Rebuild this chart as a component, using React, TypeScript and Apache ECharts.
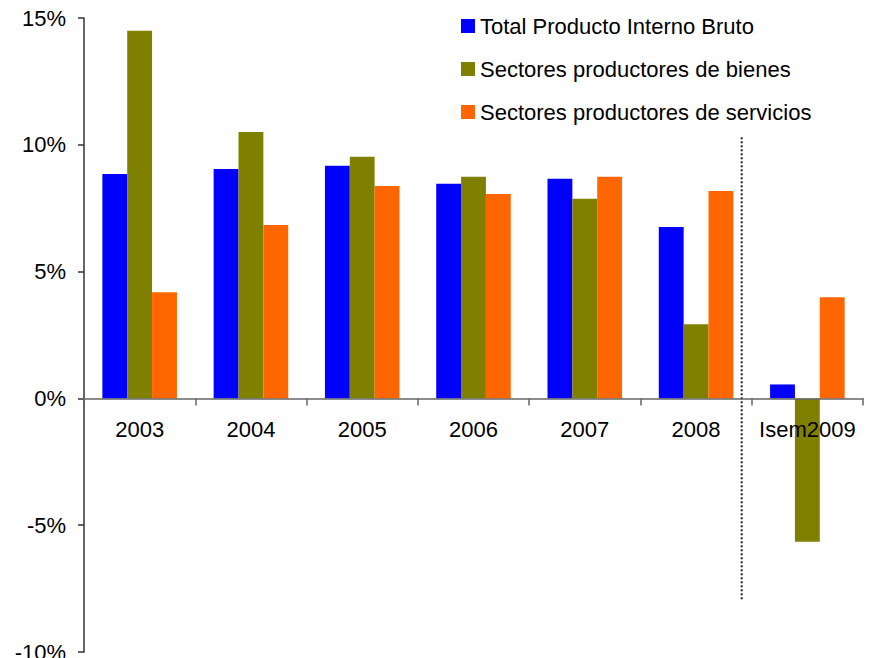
import React, { useEffect, useRef } from "react";
import * as echarts from "echarts";

const categories = ["2003", "2004", "2005", "2006", "2007", "2008", "Isem2009"];
const seriesNames = [
  "Total Producto Interno Bruto",
  "Sectores productores de bienes",
  "Sectores productores de servicios",
];
const pibTotal = [8.85, 9.05, 9.17, 8.46, 8.66, 6.76, 0.55];
const bienes = [14.5, 10.5, 9.53, 8.74, 7.87, 2.92, -5.65];
const servicios = [4.19, 6.84, 8.38, 8.06, 8.74, 8.18, 3.99];
const colors = ["#0000FF", "#808000", "#FF6600"];
const yTicks = { min: -10, max: 15, interval: 5 };
// separator between 2008 and the partial 2009 figure (category offset / % units)
const separatorCat = 5;
const separatorOffset = 0.41;
const separatorY = [10.3, -7.93];

const FONT = "'Liberation Sans', Arial, sans-serif";

export default function App() {
  const ref = useRef<HTMLDivElement>(null);
  useEffect(() => {
    if (!ref.current) return;
    const chart = echarts.init(ref.current, undefined, { renderer: "svg" });
    const values = [pibTotal, bienes, servicios];
    chart.setOption({
      animation: false,
      textStyle: { fontFamily: FONT },
      grid: { left: 84, right: 8, top: 18, bottom: 6, containLabel: false, outerBoundsMode: "none" },
      legend: {
        data: seriesNames,
        orient: "vertical",
        left: 456,
        top: 10,
        itemWidth: 14,
        itemHeight: 14,
        itemGap: 21,
        icon: "rect",
        textStyle: { fontSize: 22, color: "#000", fontFamily: FONT, lineHeight: 22 },
      },
      xAxis: {
        type: "category",
        data: categories,
        offset: 0,
        z: 10,
        axisLine: { onZero: false, lineStyle: { color: "#666", width: 1.5 } },
        axisTick: { show: true, interval: 0, length: 7, lineStyle: { color: "#666", width: 1.5 } },
        axisLabel: { fontSize: 22, color: "#000", margin: 20, fontFamily: FONT, interval: 0 },
        splitLine: { show: false },
      },
      yAxis: {
        type: "value",
        min: yTicks.min,
        max: yTicks.max,
        interval: yTicks.interval,
        axisLine: { show: true, lineStyle: { color: "#333", width: 1.5 } },
        axisTick: { show: true, length: 6, lineStyle: { color: "#333", width: 1.5 } },
        axisLabel: {
          fontSize: 22,
          color: "#000",
          margin: 18,
          fontFamily: FONT,
          formatter: (v: number) => `${v}%`,
        },
        splitLine: { show: false },
      },
      series: seriesNames.map((name, i) => ({
        name,
        type: "bar",
        data: values[i],
        itemStyle: { color: colors[i] },
        barGap: "0%",
        barCategoryGap: "33%",
      })),
    });
    const yZero = chart.convertToPixel({ yAxisIndex: 0 }, 0) as number;
    const yMin = chart.convertToPixel({ yAxisIndex: 0 }, yTicks.min) as number;
    const p0 = chart.convertToPixel({ xAxisIndex: 0 }, separatorCat) as number;
    const p1 = chart.convertToPixel({ xAxisIndex: 0 }, separatorCat + 1) as number;
    const x = p0 + (p1 - p0) * separatorOffset;
    const yTop = chart.convertToPixel({ yAxisIndex: 0 }, separatorY[0]) as number;
    const yBot = chart.convertToPixel({ yAxisIndex: 0 }, separatorY[1]) as number;
    chart.setOption({
      xAxis: { offset: -(yMin - yZero) },
      graphic: [
        {
          type: "line",
          silent: true,
          shape: { x1: x, y1: yTop, x2: x, y2: yBot },
          style: { stroke: "#222", lineWidth: 2, lineDash: [2, 2] },
        },
      ],
    });
    return () => chart.dispose();
  }, []);
  return <div ref={ref} style={{ width: 871, height: 658, position: "absolute", left: 0, top: 0 }} />;
}
